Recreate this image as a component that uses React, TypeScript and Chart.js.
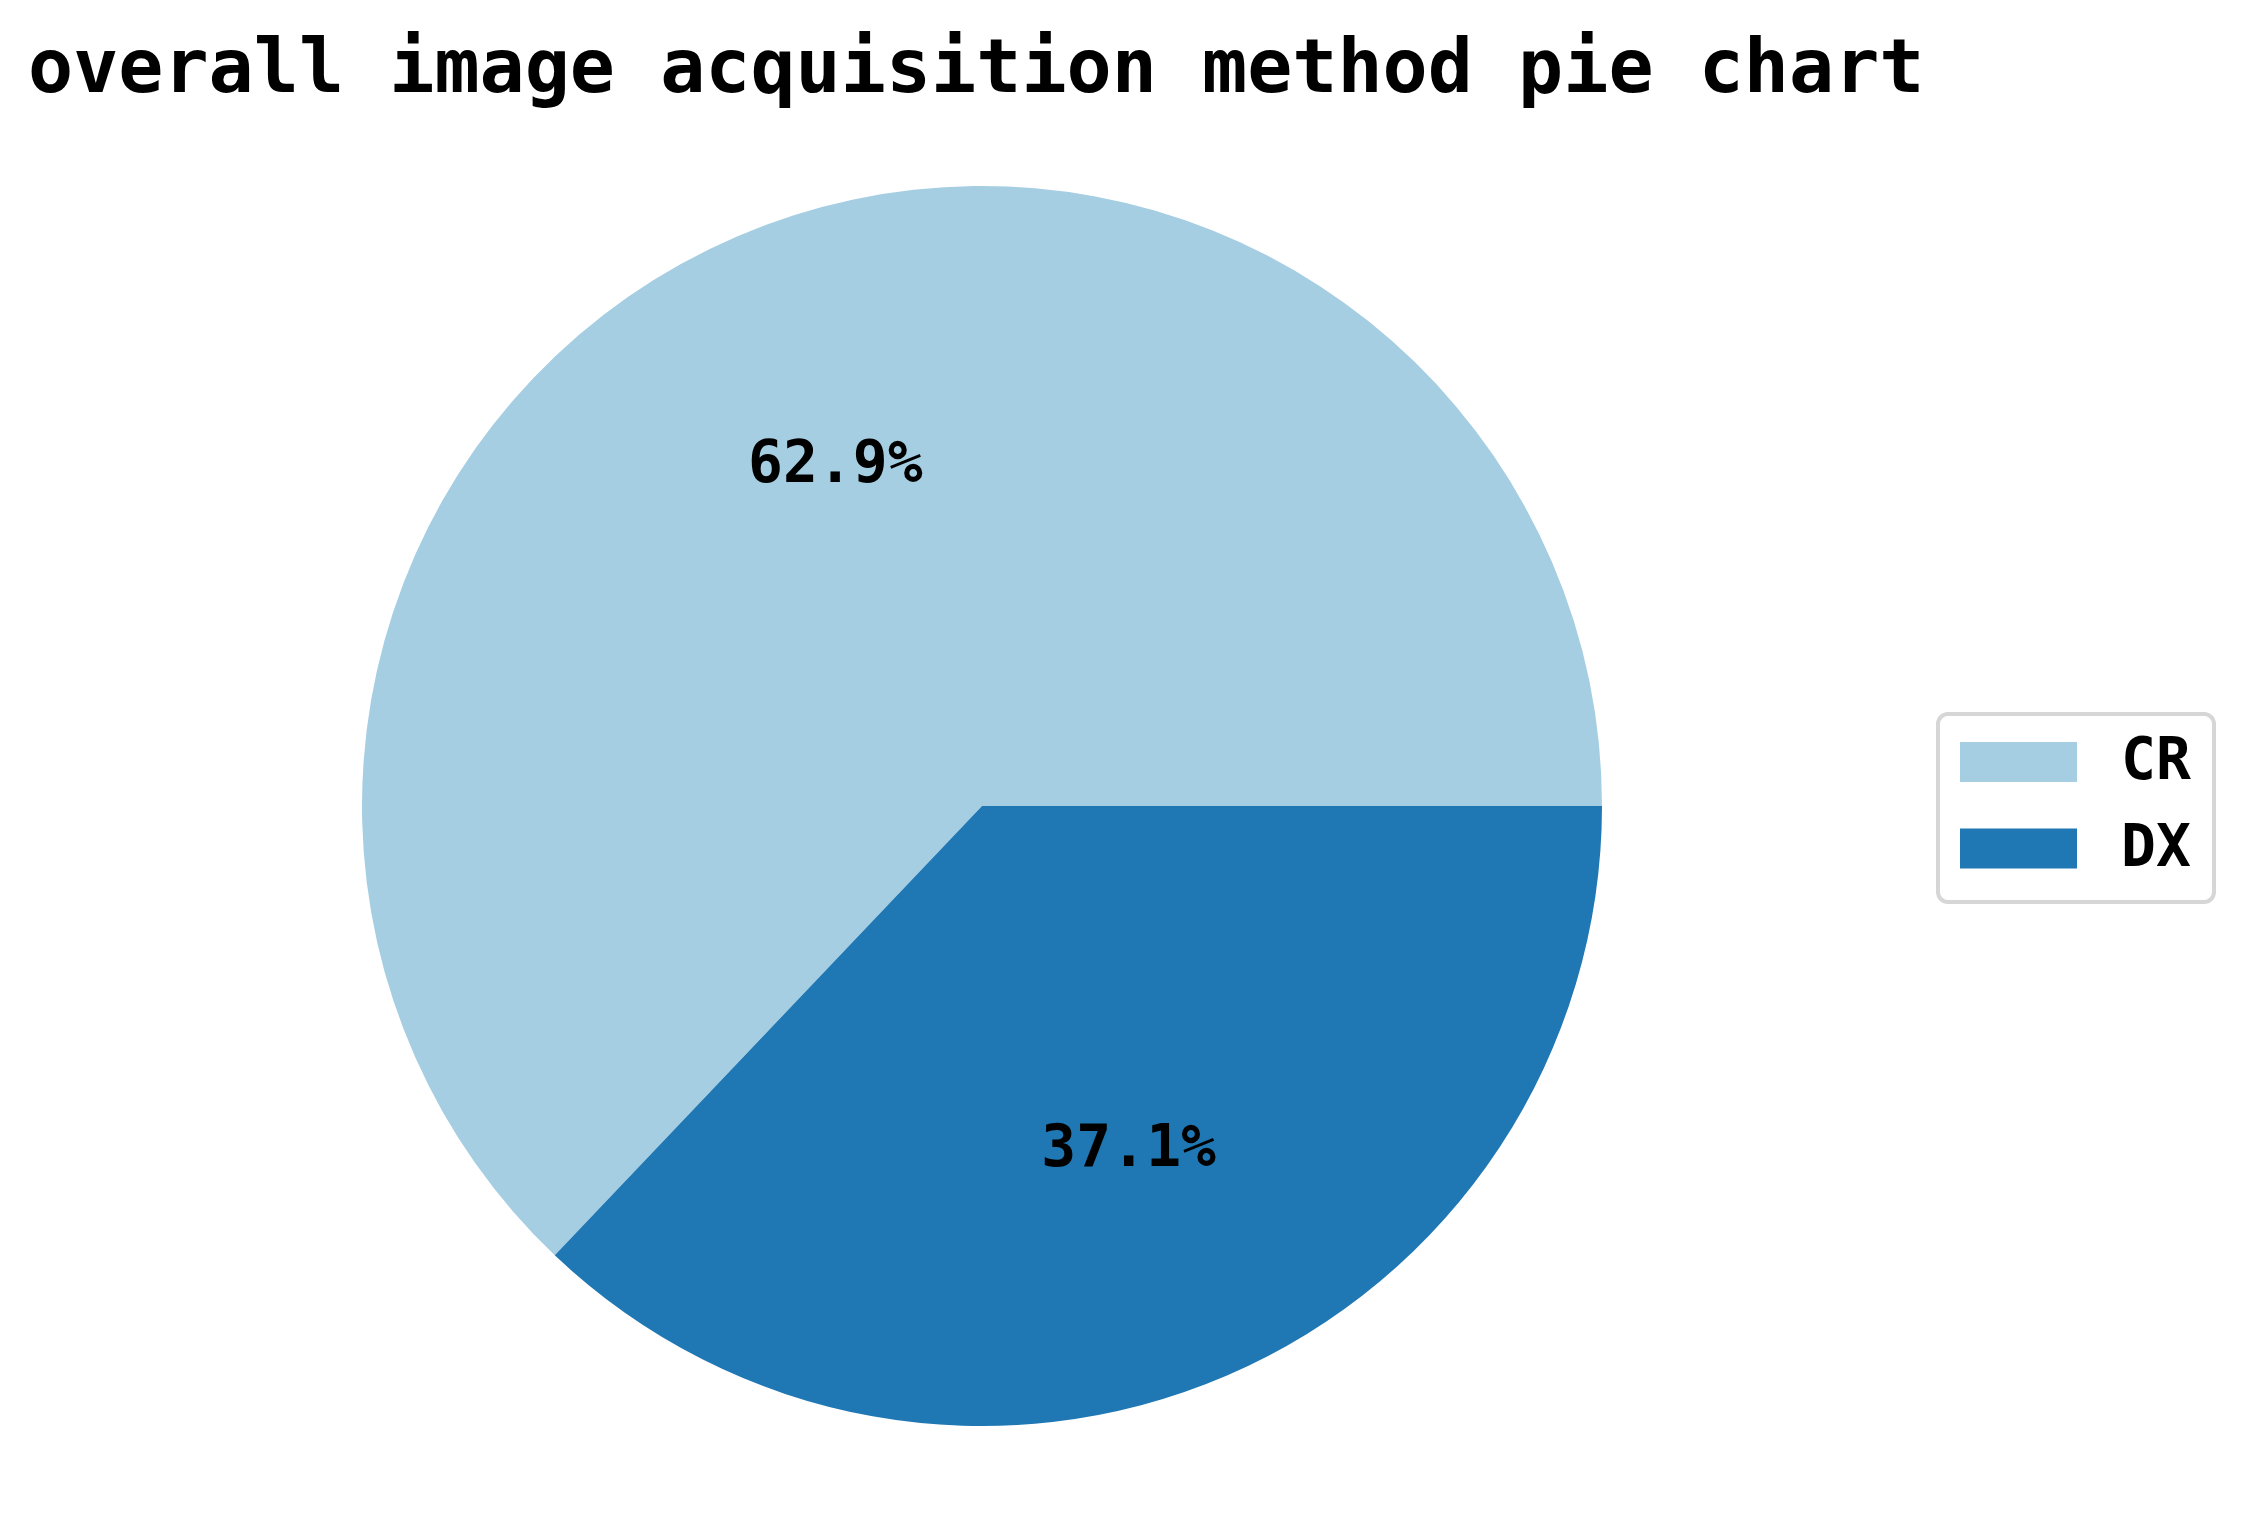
import React, { useEffect, useRef } from "react";
import { Chart, registerables } from "chart.js";

Chart.register(...registerables);

const TITLE = "overall image acquisition method pie chart";
const categories = ["CR", "DX"];
const shares = [62.9, 37.1];
const sliceColors = ["#a6cee3", "#1f78b4"];

const W = 2247;
const H = 1532;
const FONT = '"DejaVu Sans Mono", monospace';

const overlayPlugin = {
  id: "overlay",
  afterDraw(chart: any) {
    const ctx = chart.ctx as CanvasRenderingContext2D;
    ctx.save();
    // title
    ctx.fillStyle = "#000";
    ctx.font = `bold 75px ${FONT}`;
    ctx.textAlign = "left";
    ctx.textBaseline = "alphabetic";
    ctx.fillText(TITLE, 28, 92);

    // percent labels
    const meta = chart.getDatasetMeta(0);
    const total = shares.reduce((a, b) => a + b, 0);
    ctx.font = `bold 58px ${FONT}`;
    ctx.textAlign = "center";
    ctx.textBaseline = "middle";
    meta.data.forEach((arc: any, i: number) => {
      const p = arc.getProps(["x", "y", "startAngle", "endAngle", "outerRadius"], true);
      const mid = (p.startAngle + p.endAngle) / 2;
      const r = p.outerRadius * 0.6;
      const txt = ((shares[i] / total) * 100).toFixed(1) + "%";
      ctx.fillText(txt, p.x + Math.cos(mid) * r, p.y + Math.sin(mid) * r + 3);
    });

    // legend
    const bx = 1938, by = 714, bw = 276, bh = 188, rad = 10;
    ctx.lineWidth = 4;
    ctx.strokeStyle = "#d6d6d6";
    ctx.fillStyle = "rgba(255,255,255,0.8)";
    ctx.beginPath();
    ctx.roundRect(bx, by, bw, bh, rad);
    ctx.fill();
    ctx.stroke();
    ctx.font = `bold 58px ${FONT}`;
    ctx.textAlign = "left";
    ctx.textBaseline = "middle";
    const centers = [762, 848.5];
    categories.forEach((c, i) => {
      ctx.fillStyle = sliceColors[i];
      ctx.fillRect(1960, centers[i] - 20, 117, 40);
      ctx.fillStyle = "#000";
      ctx.fillText(c, 2121, centers[i] + 2);
    });
    ctx.restore();
  },
};

export default function App() {
  const ref = useRef<HTMLCanvasElement>(null);
  useEffect(() => {
    document.body.style.margin = "0";
    const canvas = ref.current!;
    const total = shares.reduce((a, b) => a + b, 0);
    const chart = new Chart(canvas, {
      type: "pie",
      data: {
        labels: categories,
        datasets: [
          {
            data: shares,
            backgroundColor: sliceColors,
            borderWidth: 0,
          },
        ],
      },
      options: {
        responsive: false,
        animation: false,
        devicePixelRatio: 1,
        rotation: 90 - (360 * shares[0]) / total,
        layout: { padding: { left: 362, top: 186, right: 645, bottom: 106 } },
        plugins: {
          legend: { display: false },
          title: { display: false },
          tooltip: { enabled: false },
        },
      },
      plugins: [overlayPlugin],
    });
    return () => chart.destroy();
  }, []);
  return (
    <div style={{ width: W, height: H, background: "#fff" }}>
      <canvas ref={ref} width={W} height={H} style={{ display: "block", width: W, height: H }} />
    </div>
  );
}
